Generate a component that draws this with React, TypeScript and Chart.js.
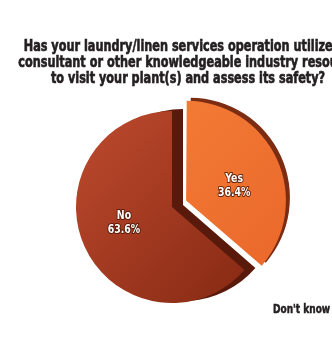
import React, { useEffect, useRef } from "react";
import { Chart, registerables } from "chart.js";

Chart.register(...registerables);

const categories = ["Yes", "No", "Don't know"];
const values = [36.4, 63.6, 0];
const valueLabels = ["36.4%", "63.6%", ""];
const titleLines = [
  "Has your laundry/linen services operation utilized a",
  "consultant or other knowledgeable industry resource",
  "to visit your plant(s) and assess its safety?",
];
const sliceColors = [
  ["#f47e37", "#ea682b"],
  ["#b8472b", "#882a14"],
  ["#ffffff", "#ffffff"],
];
// Chart.js moves an arc by offset / 4 pixels
const sliceOffsets = [62, 0, 0];

const PIE_RADIUS = 96;
const FONT = '"DejaVu Sans Condensed", "DejaVu Sans", sans-serif';

function squeezedText(
  ctx: CanvasRenderingContext2D,
  text: string,
  x: number,
  y: number,
  align: CanvasTextAlign,
  stroke: boolean,
  squeeze: number
) {
  ctx.save();
  ctx.translate(x, y);
  ctx.scale(squeeze, 1);
  ctx.textAlign = align;
  if (stroke) ctx.strokeText(text, 0, 0);
  ctx.fillText(text, 0, 0);
  ctx.restore();
}

export default function App() {
  const ref = useRef<HTMLCanvasElement | null>(null);

  useEffect(() => {
    document.body.style.margin = "0";
    const canvas = ref.current;
    if (!canvas) return;

    const pie3d = {
      id: "pie3d",
      beforeDatasetsDraw(chart: any) {
        const ctx = chart.ctx;
        const meta = chart.getDatasetMeta(0);
        const shadows: Record<number, [number, number, string]> = {
          1: [11, -2, "#5a1a0b"],
          0: [4, -3, "#7b2c12"],
        };
        [1, 0].forEach((i) => {
          const arc = meta.data[i];
          if (!arc) return;
          const s = shadows[i];
          ctx.save();
          ctx.shadowColor = s[2];
          ctx.shadowOffsetX = s[0];
          ctx.shadowOffsetY = s[1];
          ctx.shadowBlur = 0;
          arc.draw(ctx);
          ctx.restore();
        });
        return false;
      },
      afterDraw(chart: any) {
        const ctx = chart.ctx;
        const meta = chart.getDatasetMeta(0);
        const W = chart.width;

        // title
        ctx.save();
        ctx.fillStyle = "#231f20";
        ctx.strokeStyle = "#231f20";
        ctx.lineWidth = 0.6;
        ctx.font = `bold 15px ${FONT}`;
        ctx.textBaseline = "alphabetic";
        const tx = W / 2 + 22;
        titleLines.forEach((line, k) => {
          squeezedText(ctx, line, tx, 51 + k * 16, "center", true, 0.835);
        });
        ctx.restore();

        // slice labels
        [0, 1].forEach((i) => {
          const arc = meta.data[i];
          if (!arc) return;
          const p = arc.getProps(["x", "y", "startAngle", "endAngle", "outerRadius"], true);
          const mid = (p.startAngle + p.endAngle) / 2;
          const r = p.outerRadius * 0.55 + sliceOffsets[i] / 4;
          const lx = p.x + Math.cos(mid) * r;
          const ly = p.y + Math.sin(mid) * r + (i === 0 ? 7 : -6);
          ctx.save();
          ctx.font = `bold 13px ${FONT}`;
          ctx.textBaseline = "middle";
          ctx.lineJoin = "round";
          ctx.lineWidth = 2.2;
          ctx.strokeStyle = "rgba(70,20,5,0.8)";
          ctx.fillStyle = "#ffffff";
          [categories[i], valueLabels[i]].forEach((t, k) => {
            squeezedText(ctx, t, lx, ly - 7 + k * 14, "center", true, 0.8);
          });
          ctx.restore();
        });

        // outside label for the zero slice
        ctx.save();
        ctx.font = `bold 13px ${FONT}`;
        ctx.fillStyle = "#231f20";
        ctx.strokeStyle = "#231f20";
        ctx.lineWidth = 0.5;
        ctx.textBaseline = "alphabetic";
        squeezedText(ctx, categories[2], chart.chartArea.right - 59, 313, "left", true, 0.77);
        ctx.restore();
      },
    };

    const chart = new Chart(canvas, {
      type: "pie",
      data: {
        labels: categories,
        datasets: [
          {
            data: values,
            backgroundColor: (c: any) => {
              const i = c.dataIndex;
              const chartArea = c.chart.chartArea;
              if (!chartArea) return sliceColors[i][0];
              const cx = (chartArea.left + chartArea.right) / 2;
              const cy = (chartArea.top + chartArea.bottom) / 2;
              const g = c.chart.ctx.createLinearGradient(
                cx - PIE_RADIUS,
                cy - PIE_RADIUS * 0.6,
                cx + PIE_RADIUS * 0.7,
                cy + PIE_RADIUS
              );
              g.addColorStop(0, sliceColors[i][0]);
              g.addColorStop(1, sliceColors[i][1]);
              return g;
            },
            borderWidth: 0,
            offset: sliceOffsets,
          },
        ],
      },
      options: {
        animation: false,
        responsive: false,
        radius: PIE_RADIUS,
        layout: { padding: { left: 12, right: 0, top: 92, bottom: 15 } },
        plugins: {
          legend: { display: false },
          tooltip: { enabled: false },
          title: { display: false },
        },
        events: [],
      },
      plugins: [pie3d],
    });
    return () => chart.destroy();
  }, []);

  return (
    <div style={{ width: 332, height: 337, overflow: "hidden", background: "#ffffff" }}>
      <canvas ref={ref} width={332} height={337} style={{ display: "block" }} />
    </div>
  );
}
